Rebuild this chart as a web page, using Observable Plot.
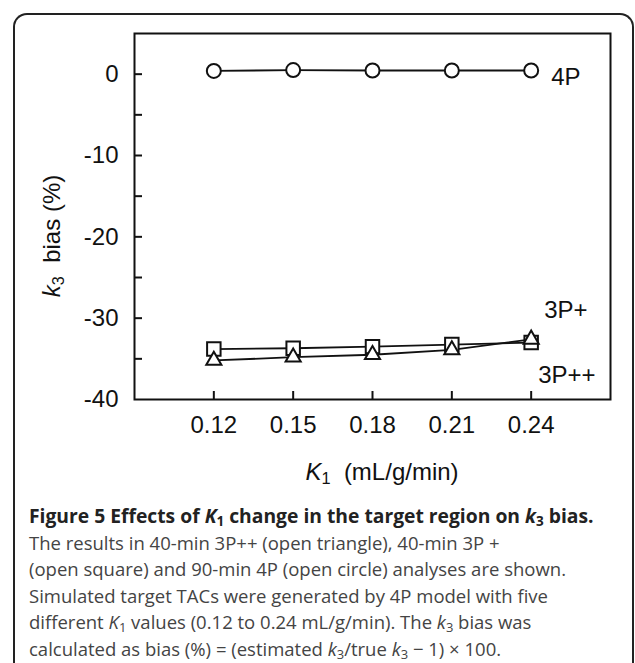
<!DOCTYPE html>
<html>
<head>
<meta charset="utf-8">
<script src="https://cdn.jsdelivr.net/npm/d3@7"></script>
<script src="https://cdn.jsdelivr.net/npm/@observablehq/plot@0.6"></script>
<style>
  body { margin: 0; width: 635px; height: 663px; overflow: hidden; position: relative; background: #fff; }
  #box { position: absolute; left: 13px; top: 13px; width: 621px; height: 720px; box-sizing: border-box;
         border: 2px solid #222; border-bottom: none; border-radius: 14px 14px 0 0; }
  #chart { position: absolute; left: 0; top: 0; }
  .axlab { position: absolute; font-family: "Liberation Sans", Arial, sans-serif; font-size: 24px; color: #111; white-space: nowrap; }
  .axlab sub { font-size: 0.68em; vertical-align: -0.3em; }
  #ylab { left: 53px; top: 236px; transform: translate(-50%, -50%) rotate(-90deg); }
  #xlab { left: 382px; top: 473px; transform: translate(-50%, -50%); }
  #caption { position: absolute; left: 29px; top: 503px; width: 600px; font-family: "Open Sans", sans-serif;
             font-size: 18.5px; line-height: 26.5px; color: #444; white-space: nowrap; }
  #caption b { color: #222; font-size: 19.3px; }
  #caption sub { font-size: 0.7em; vertical-align: -0.25em; line-height: 0; }
</style>
</head>
<body>
<div id="box"></div>
<div id="chart"></div>
<div id="ylab" class="axlab"><i>k</i><sub>3</sub>&nbsp; bias (%)</div>
<div id="xlab" class="axlab"><i>K</i><sub>1</sub>&nbsp; (mL/g/min)</div>
<div id="caption"><b>Figure 5 Effects of <i>K</i><sub>1</sub> change in the target region on <i>k</i><sub>3</sub> bias.</b><br>The results in 40-min 3P++ (open triangle), 40-min 3P +<br>(open square) and 90-min 4P (open circle) analyses are shown.<br>Simulated target TACs were generated by 4P model with five<br>different <i>K</i><sub>1</sub> values (0.12 to 0.24 mL/g/min). The <i>k</i><sub>3</sub> bias was<br>calculated as bias (%) = (estimated <i>k</i><sub>3</sub>/true <i>k</i><sub>3</sub> − 1) × 100.</div>
<script>
// Data
const k1Values = [0.12, 0.15, 0.18, 0.21, 0.24];
const bias4P = [0.4, 0.5, 0.45, 0.45, 0.45];
const bias3Pplus = [-33.8, -33.7, -33.5, -33.25, -33.0];
const bias3Pplusplus = [-35.2, -34.8, -34.5, -33.9, -32.6];
const seriesNames = ["4P", "3P+", "3P++"];
const xTicks = [0.12, 0.15, 0.18, 0.21, 0.24];
const yLabelTicks = [0, -10, -20, -30, -40];
const yMinorTicks = [0, -5, -10, -15, -20, -25, -30, -35];

const rows = (name, vals) => k1Values.map((k, i) => ({series: name, k1: k, bias: vals[i]}));
const d4P = rows("4P", bias4P);
const d3P = rows("3P+", bias3Pplus);
const d3PP = rows("3P++", bias3Pplusplus);
const lastOf = d => [d[d.length - 1]];

const W = 635, H = 450, mL = 134, mR = 25, mT = 33, mB = 51;
const innerW = W - mL - mR, innerH = H - mT - mB;
const ink = "#111";

const plot = Plot.plot({
  width: W, height: H,
  marginLeft: mL, marginRight: mR, marginTop: mT, marginBottom: mB,
  x: {domain: [0.09, 0.27]},
  y: {domain: [-40, 5]},
  style: {fontFamily: "Liberation Sans, Arial, sans-serif", fontSize: "24px", color: ink, background: "transparent"},
  marks: [
    Plot.tickX(xTicks, {x: d => d, insetTop: innerH - 8, stroke: ink, strokeWidth: 2}),
    Plot.tickY(yMinorTicks, {y: d => d, insetRight: innerW - 8, stroke: ink, strokeWidth: 2}),
    Plot.axisX({ticks: xTicks, tickSize: 0, tickPadding: 16, tickFormat: d => d.toFixed(2), label: null, fontSize: 24}),
    Plot.axisY({ticks: yLabelTicks, tickSize: 0, tickPadding: 16, tickFormat: d => String(d), label: null, fontSize: 24}),
    Plot.line(d4P, {x: "k1", y: "bias", stroke: ink, strokeWidth: 1.8}),
    Plot.line(d3P, {x: "k1", y: "bias", stroke: ink, strokeWidth: 1.8}),
    Plot.line(d3PP, {x: "k1", y: "bias", stroke: ink, strokeWidth: 1.8}),
    Plot.dot(d4P, {x: "k1", y: "bias", symbol: "circle", r: 7, fill: "white", stroke: ink, strokeWidth: 2}),
    Plot.dot(d3P, {x: "k1", y: "bias", symbol: "square", r: 7.6, fill: "white", stroke: ink, strokeWidth: 2}),
    Plot.dot(d3PP, {x: "k1", y: "bias", symbol: "triangle", r: 5.6, fill: "white", stroke: ink, strokeWidth: 2}),
    Plot.text(lastOf(d4P), {x: "k1", y: "bias", text: "series", dx: 20, dy: 7, textAnchor: "start", fontSize: 24, fill: ink}),
    Plot.text(lastOf(d3P), {x: "k1", y: "bias", text: "series", dx: 13, dy: -32, textAnchor: "start", fontSize: 24, fill: ink}),
    Plot.text(lastOf(d3PP), {x: "k1", y: "bias", text: "series", dx: 7, dy: 36, textAnchor: "start", fontSize: 24, fill: ink}),
    Plot.frame({stroke: ink, strokeWidth: 2})
  ]
});
document.getElementById("chart").appendChild(plot);
</script>
</body>
</html>
